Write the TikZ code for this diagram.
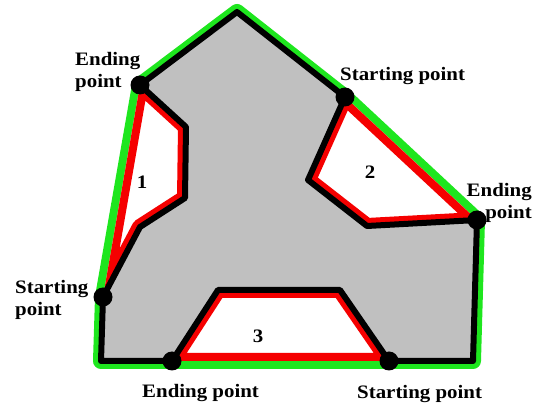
\documentclass[tikz,border=0pt]{standalone}
\usepackage{fontspec}
\setmainfont{Liberation Serif}[FakeStretch=1.1]
\definecolor{hullCol}{RGB}{30,230,30}
\definecolor{pocketCol}{RGB}{245,0,0}
\definecolor{bodyCol}{RGB}{192,192,192}
\tikzset{
    hull/.style={draw=hullCol, line width=16pt, line join=round},
    body/.style={draw=black, line width=6pt, line join=round},
    pocket/.style={draw=pocketCol, line width=16pt, line join=round},
    vertexdot/.style={fill=black},
    lbl/.style={font=\fontsize{19}{22}\selectfont\bfseries, inner sep=0pt, text=black}
}

\begin{document}
\begin{tikzpicture}[x=1pt, y=-1pt]

    % Frame
    \useasboundingbox (0,0) rectangle (539,403);

    % 1. Corner points of the shape
    \coordinate (T)   at (237,12);
    \coordinate (SP2) at (345,97);
    \coordinate (N2a) at (308,180);
    \coordinate (N2b) at (367,226);
    \coordinate (EP2) at (477,220);
    \coordinate (BR)  at (473,361);
    \coordinate (SP3) at (389,361);
    \coordinate (N3a) at (340,290);
    \coordinate (N3b) at (218,290);
    \coordinate (EP3) at (172,361);
    \coordinate (BL)  at (101,361);
    \coordinate (SP1) at (103,297);
    \coordinate (N1a) at (140,227);
    \coordinate (N1b) at (185,198);
    \coordinate (N1c) at (186,127);
    \coordinate (EP1) at (140,85);

    % 2. Convex hull (green)
    \path[hull] (T) -- (SP2) -- (EP2) -- (BR) -- (BL) -- (SP1) -- (EP1) -- cycle;

    % Pockets are white
    \fill[white] (EP1) -- (N1c) -- (N1b) -- (N1a) -- (SP1) -- cycle;
    \fill[white] (SP2) -- (N2a) -- (N2b) -- (EP2) -- cycle;
    \fill[white] (EP3) -- (N3b) -- (N3a) -- (SP3) -- cycle;

    % 3. Polygon body
    \fill[bodyCol] (T) -- (SP2) -- (N2a) -- (N2b) -- (EP2) -- (BR) -- (SP3)
        -- (N3a) -- (N3b) -- (EP3) -- (BL) -- (SP1) -- (N1a) -- (N1b)
        -- (N1c) -- (EP1) -- cycle;

    % 4. Pocket borders (red, inside each pocket)
    \begin{scope}
        \clip (EP1) -- (N1c) -- (N1b) -- (N1a) -- (SP1) -- cycle;
        \path[pocket] (EP1) -- (N1c) -- (N1b) -- (N1a) -- (SP1) -- cycle;
    \end{scope}
    \begin{scope}
        \clip (SP2) -- (N2a) -- (N2b) -- (EP2) -- cycle;
        \path[pocket] (SP2) -- (N2a) -- (N2b) -- (EP2) -- cycle;
    \end{scope}
    \begin{scope}
        \clip (EP3) -- (N3b) -- (N3a) -- (SP3) -- cycle;
        \path[pocket] (EP3) -- (N3b) -- (N3a) -- (SP3) -- cycle;
    \end{scope}

    % Black outline
    \path[body] (T) -- (SP2) -- (N2a) -- (N2b) -- (EP2) -- (BR) -- (SP3)
        -- (N3a) -- (N3b) -- (EP3) -- (BL) -- (SP1) -- (N1a) -- (N1b)
        -- (N1c) -- (EP1) -- cycle;

    % 5. Starting / ending points
    \foreach \p in {EP1, SP1, SP2, EP2, SP3, EP3} {
        \fill[vertexdot] (\p) circle (9.5pt);
    }

    % 6. Labels
    \node[lbl, anchor=north west, align=left]  (lEP1) at (75,52)   {Ending\\point};
    \node[lbl, anchor=north west, align=left]  (lSP1) at (15,280)  {Starting\\point};
    \node[lbl, anchor=north west]              (lSP2) at (340,67)  {Starting point};
    \node[lbl, anchor=north east, align=right] (lEP2) at (532,183) {Ending\\point};
    \node[lbl, anchor=north west]              (lEP3) at (142,384) {Ending point};
    \node[lbl, anchor=north west]              (lSP3) at (357,385) {Starting point};

    \node[lbl] (one)   at (142,182) {1};
    \node[lbl] (two)   at (370,172) {2};
    \node[lbl] (three) at (258,336) {3};

\end{tikzpicture}
\end{document}
